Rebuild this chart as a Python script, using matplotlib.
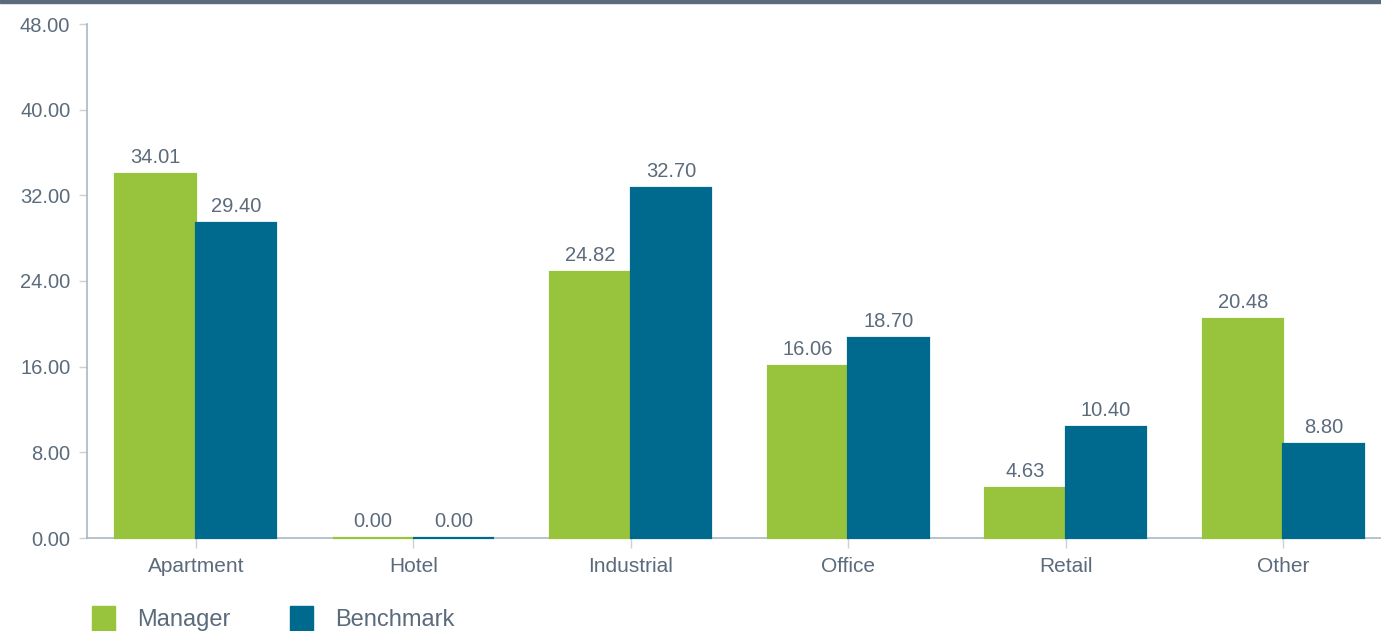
import numpy as np
import matplotlib.pyplot as plt
from matplotlib.patches import Rectangle

plt.rcParams["font.family"] = ["Liberation Sans", "DejaVu Sans"]

categories = ["Apartment", "Hotel", "Industrial", "Office", "Retail", "Other"]
manager = [34.01, 0.00, 24.82, 16.06, 4.63, 20.48]
benchmark = [29.40, 0.00, 32.70, 18.70, 10.40, 8.80]
yticks = [0, 8, 16, 24, 32, 40, 48]

text_color = "#5b6b7b"
green = "#97c43c"
blue = "#006a8e"

fig = plt.figure(figsize=(13.81, 6.31), dpi=100)
ax = fig.add_axes([87 / 1381, 93 / 631, 1 - 87 / 1381, (538 - 24) / 631])

x = np.arange(len(categories))
w = 0.37
b1 = ax.bar(x - w / 2, manager, w, color=green, edgecolor=green, linewidth=1.6,
            zorder=3, clip_on=False)
b2 = ax.bar(x + w / 2, benchmark, w, color=blue, edgecolor=blue, linewidth=1.6,
            zorder=3, clip_on=False)

for bars, vals in ((b1, manager), (b2, benchmark)):
    for rect, v in zip(bars, vals):
        ax.annotate(f"{v:.2f}", (rect.get_x() + rect.get_width() / 2, v),
                    xytext=(0, 5), textcoords="offset points",
                    ha="center", va="bottom", fontsize=14.5, color=text_color)

ax.set_xlim(-0.5, 5.45)
ax.set_ylim(0, 48)
ax.set_yticks(yticks)
ax.set_yticklabels([f"{t:.2f}" for t in yticks])
ax.set_xticks(x)
ax.set_xticklabels(categories)

for s in ("top", "right"):
    ax.spines[s].set_visible(False)
for s in ("left", "bottom"):
    ax.spines[s].set_color("#a9b7c4")
    ax.spines[s].set_linewidth(1.2)

ax.tick_params(axis="y", length=6, width=1, color="#d0d0d0", labelsize=14.5,
               labelcolor=text_color, pad=6)
ax.tick_params(axis="x", length=7, width=1, color="#d0d0d0", labelsize=15,
               labelcolor=text_color, pad=7)

# top band
fig.patches.append(Rectangle((0, 1 - 3 / 631), 1, 3 / 631, transform=fig.transFigure,
                             color="#5b6b7b", zorder=5))

# legend
for i, (name, col) in enumerate((("Manager", green), ("Benchmark", blue))):
    x0 = (92 + i * 198) / 1381
    fig.patches.append(Rectangle((x0, -2 / 631), 23 / 1381, 27 / 631,
                                 transform=fig.transFigure, color=col))
    fig.text(x0 + 45 / 1381, 0, name, fontsize=17, color=text_color,
             ha="left", va="bottom")

fig.savefig("out.png", dpi=100)
